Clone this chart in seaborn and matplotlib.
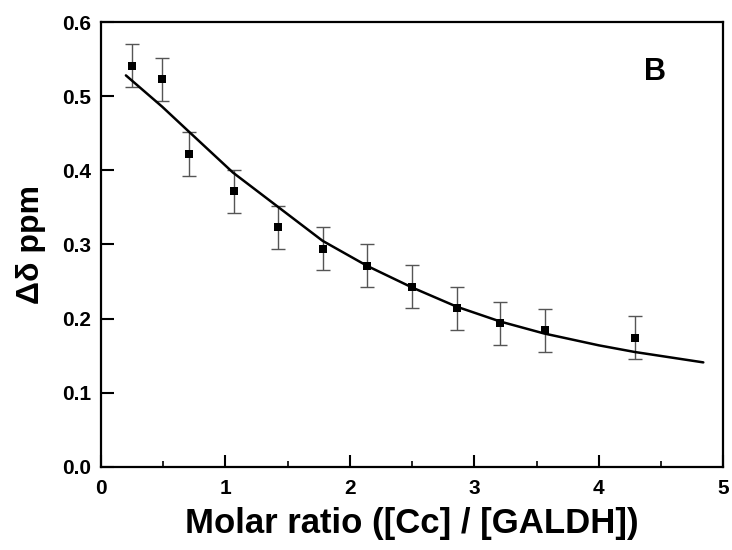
import matplotlib
matplotlib.use("Agg")
import matplotlib.pyplot as plt
import seaborn as sns
import pandas as pd
from matplotlib.ticker import MultipleLocator

# Data
ratio = [0.25, 0.49, 0.71, 1.07, 1.42, 1.78, 2.14, 2.50, 2.86, 3.21, 3.57, 4.29]
shift = [0.541, 0.523, 0.422, 0.372, 0.323, 0.294, 0.271, 0.243, 0.214, 0.194, 0.184, 0.174]
shift_err = [0.029, 0.029, 0.029, 0.029, 0.029, 0.029, 0.029, 0.029, 0.029, 0.029, 0.029, 0.029]

fit_x = [0.20, 0.49, 0.72, 1.06, 1.42, 1.78, 2.14, 2.50, 2.86, 3.21, 3.56, 4.00, 4.29, 4.84]
fit_y = [0.528, 0.486, 0.450, 0.397, 0.351, 0.305, 0.271, 0.242, 0.216, 0.196, 0.180, 0.164, 0.155, 0.141]

xticks = [0, 1, 2, 3, 4, 5]
yticks = [0.0, 0.1, 0.2, 0.3, 0.4, 0.5, 0.6]

sns.set_style("ticks", {"axes.edgecolor": "black", "text.color": "black",
                        "axes.labelcolor": "black", "xtick.color": "black",
                        "ytick.color": "black"})
plt.rcParams['font.family'] = ['Liberation Sans', 'DejaVu Sans']

pts = pd.DataFrame({"x": ratio, "y": shift})
fit = pd.DataFrame({"x": fit_x, "y": fit_y})

fig = plt.figure(figsize=(7.32, 5.5), dpi=100)
ax = fig.add_axes([0.138, 0.151, 0.850, 0.809])

ax.errorbar(ratio, shift, yerr=shift_err, fmt='none', ecolor='#555555',
            elinewidth=1.0, capsize=5, capthick=1.0, zorder=2)
sns.lineplot(data=fit, x="x", y="y", ax=ax, color='black', linewidth=1.8,
             sort=False, zorder=3)
sns.scatterplot(data=pts, x="x", y="y", ax=ax, marker='s', color='black',
                s=36, edgecolor='black', linewidth=0, zorder=4)

ax.set_xlim(0, 5)
ax.set_ylim(0, 0.6)
ax.set_xticks(xticks)
ax.set_xticklabels([str(t) for t in xticks])
ax.set_yticks(yticks)
ax.set_yticklabels([f"{t:.1f}" for t in yticks])
ax.xaxis.set_minor_locator(MultipleLocator(0.5))

ax.tick_params(axis='both', which='major', direction='in', length=9, width=1.5,
               labelsize=15, pad=7, colors='black')
ax.tick_params(axis='x', which='minor', direction='in', length=4.5, width=1.2,
               colors='black')
ax.tick_params(axis='x', which='major', pad=9)
for lab in ax.get_xticklabels() + ax.get_yticklabels():
    lab.set_fontweight('bold')

for sp in ax.spines.values():
    sp.set_visible(True)
    sp.set_linewidth(1.6)
    sp.set_color('black')

ax.set_xlabel("Molar ratio ([Cc] / [GALDH])", fontsize=25, fontweight='bold',
              labelpad=6, color='black')
ax.set_ylabel("Δδ ppm", fontsize=23, fontweight='bold', labelpad=12, color='black')

ax.text(0.89, 0.888, "B", transform=ax.transAxes, fontsize=22, fontweight='bold',
        ha='center', va='center', color='black')

fig.savefig("out.png", dpi=100)
